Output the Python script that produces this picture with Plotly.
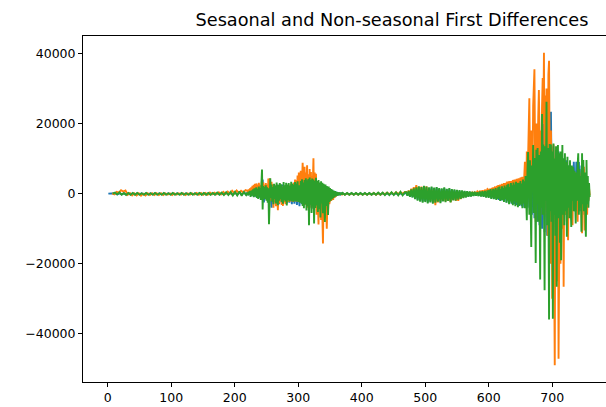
import numpy as np
import plotly.graph_objects as go

# Differenced daily series, values in thousands.
# Each series is stored as segments: (first x, x step, values).

# --- first differences (blue) ---
blue_quiet1 = [0.0, 0.0, 0.0,
               0.1, -0.2, 0.1, -0.2, 0.1, -0.2, 0.1, -0.2, 0.1, -0.2,
               0.1, -0.2, 0.1, -0.2, 0.1, -0.2, 0.1, -0.2, 0.1, -0.2,
               0.1, -0.2, 0.1, -0.2, 0.1, -0.2, 0.1, -0.2, 0.1, -0.2,
               0.1, -0.2, 0.1, -0.2, 0.1, -0.2, 0.1, -0.2, 0.1, -0.2,
               0.1, -0.2, 0.1, -0.2, 0.1, -0.2, 0.1, -0.2, 0.1, -0.2,
               0.2, -0.2, 0.2, -0.3, 0.3, -0.3, 0.3, -0.3, 0.4, -0.3]
blue_active1 = [0.3, -0.4, 0.8, -0.6, 1.0, -0.8, 1.2, -1.0, 1.5, -1.2,
                1.4, -1.5, 4.0, -2.5, 1.8, -1.5, 2.0, -1.8, 2.2, -4.0,
                2.0, -2.2, 2.4, -2.6, 2.5, -3.0, 2.2, -2.5, 2.6, -2.4,
                2.3, -2.8, 2.4, -2.6, 2.5, -3.0, 2.8, -2.9, 2.4, -3.2,
                2.6, -3.6, 3.0, -3.0, 3.4, -3.2, 3.6, -3.5, 3.8, -4.0,
                3.6, -4.2, 3.4, -3.8, 3.2, -3.6, 3.0, -3.4, 2.8, -3.0,
                2.4, -3.2, 2.0, -2.8, 1.6, -2.0, 1.2, -1.4, 0.8, -1.0,
                0.5, -0.6, 0.3, -0.3, 0.1]
blue_quiet2 = [0.1, -0.2, 0.1, -0.2, 0.1, -0.2, 0.1, -0.2, 0.1, -0.2,
               0.1, -0.2, 0.1, -0.2, 0.1, -0.2, 0.1, -0.2, 0.1, -0.2,
               0.1, -0.2, 0.1, -0.2, 0.1, -0.2, 0.1, -0.2, 0.1]
blue_mid = [0.3, -0.5, 0.7, -0.8, 1.0, -1.0, 1.3, -1.4, 1.6, -1.8,
            1.9, -2.0, 1.7, -2.3, 2.0, -2.1, 1.8, -2.5, 1.6, -2.2,
            1.8, -2.6, 1.5, -2.3, 1.7, -2.0, 1.4, -2.4, 1.3, -2.0,
            1.6, -2.1, 1.2, -1.9, 1.4, -2.2, 1.1, -1.7, 1.0, -1.8,
            0.9, -1.5, 0.8, -1.3, 0.7, -1.1, 0.6, -0.9, 0.5, -0.8,
            0.5, -0.7, 0.4, -0.6, 0.4, -0.5, 0.3, -0.6, 0.5, -0.7,
            0.6, -0.8, 0.7, -1.0, 0.8]
blue_active2 = [-1.0, 1.1, -1.3, 1.2, -1.4, 1.5, -1.6, 1.4, -1.8, 1.6,
                -1.9, 1.8, -2.2, 2.0, -2.5, 2.4, -2.6, 2.7, -2.9, 2.8,
                -3.0, 3.0, -3.2, 2.9, -3.5, 3.3, -3.6, 3.4, -4.0, 3.8,
                -4.0, 10.0, -4.0, 12.0, -6.0, 12.5, -7.0, 13.0, -8.0, 12.0,
                -9.0, 13.0, -10.0, 20.0, -11.0, 22.0, -12.0, 13.0, -14.0, 23.4,
                -14.0, 13.5, -12.0, 12.5, -10.0, 12.0, -9.0, 11.0, -8.0, 10.0,
                -6.0, 9.5, -7.0, 8.0, -5.0, 7.5, -4.0, 9.1, -5.0, 9.1,
                -4.0, 9.0, -5.0, 8.0, -6.0, 7.0, -6.0, 5.0, -3.0, -0.4]

# --- seasonal differences (orange) ---
orange_quiet1 = [0.1, -0.2, 0.5, 0.3, 1.0, 0.6, 0.9, -0.3, 0.2, -0.5,
                 0.1, -0.5, 0.1, -0.6, 0.0, -0.5, 0.1, -0.4, 0.1, -0.4,
                 0.1, -0.4, 0.1, -0.4, 0.1, -0.3, 0.1, -0.4, 0.1, -0.3,
                 0.1, -0.3, 0.1, -0.4, 0.1, -0.3, 0.1, -0.3, 0.2, -0.3,
                 0.2, -0.3, 0.2, -0.3, 0.3, -0.2, 0.3, -0.2, 0.4, -0.2,
                 0.5, -0.1, 0.6, 0.0, 0.8, 0.1, 0.9, 0.2, 0.8, 0.3,
                 1.0]
orange_active1 = [0.8, 0.2, 1.2, 0.5, 1.5, 0.3, 1.8,
                  0.9, 2.2, 0.6, 2.5, 1.0, 2.8, 0.7,
                  2.9, 1.4, 2.6, 0.5, 3.1, 1.2, 2.4,
                  -0.8, 2.0, 4.0, -1.5, 3.2, 0.6, 2.5,
                  -1.0, 3.0, -0.5, 2.6, -1.8, 4.3, -3.0,
                  4.4, 1.0, -2.0, 3.4, -1.2, 2.7, -4.0,
                  2.0, -2.5, 1.8, -3.6, 2.5, -1.0, -4.7,
                  1.5, -2.8, 2.4, -2.0, 1.9, -3.2, 1.2,
                  -3.5, 2.2, -2.5, 1.6, -3.0, 2.4, -2.6,
                  1.9, -2.4, 2.5, -2.3, 1.6, -2.2, 2.8,
                  -2.0, 2.0, -2.4, 3.2, -1.8, 4.0, -2.2,
                  3.8, -1.5, 5.2, -2.4, 6.0, -2.3, 2.5,
                  6.5, -2.0, 7.2, 8.8, 3.0, -2.5, 7.7,
                  -3.2, 6.0, 3.5, 8.1, -4.0, 5.5, -6.5,
                  7.0, -2.5, 6.2, -4.2, 5.0, 3.0, 10.1,
                  -5.5, 6.0, -3.0, 5.7, -6.0, 3.2, -5.0,
                  -8.8, 3.0, -4.5, 2.6, -7.5, 2.0, -3.5,
                  -14.2, 1.5, -6.0, -7.0, 1.8, -4.0, -10.0,
                  -2.5, -5.0, -1.0, -3.0, -1.9, -0.5, -2.0,
                  -1.5, -0.3, -1.8, -0.6, -1.2, 0.0, -0.9,
                  0.1, -0.6, 0.2, -0.4, 0.2, -0.3, 0.1,
                  -0.3, 0.1, -0.2]
orange_quiet2 = [0.1, -0.3, 0.1, -0.3, 0.1, -0.3, 0.1, -0.3, 0.1, -0.3,
                 0.1, -0.3, 0.1, -0.3, 0.2, -0.3, 0.2, -0.3, 0.2, -0.2,
                 0.3, -0.2, 0.3, -0.2, 0.4, -0.1, 0.4, 0.0, 0.5]
orange_mid = [0.5, -0.2, 0.9, -0.3, 1.4, 0.2, 1.8, 0.5, 2.4, 0.3,
              1.9, 0.0, 2.0, -0.5, 1.6, -0.8, 2.1, -1.2, 1.3, -1.8,
              1.0, -2.2, 0.6, -3.3, 0.8, -2.5, 0.4, -2.0, 0.2, -1.8,
              0.0, -2.2, -0.3, -1.8, 0.1, -2.4, -0.4, -1.6, -0.2, -2.0,
              -0.6, -2.05, -0.3, -1.5, -0.2, -1.0, 0.0, -0.8, 0.1, -0.5,
              0.2, -0.3, 0.3, -0.2, 0.4, 0.0, 0.6, 0.1, 0.8, 0.2,
              0.9, 0.3, 1.1, 0.4, 1.3]
orange_active2 = [1.0, 0.3, 1.4, 0.5, 1.2, 1.6, 0.6,
                  1.8, 0.8, 1.5, 2.0, 0.9, 1.7, 2.2,
                  1.0, 2.4, 1.9, 1.2, 2.6, 2.0, 1.4,
                  2.8, 2.2, 1.5, 3.0, 2.4, 1.6, 3.1,
                  2.0, 3.4, 2.6, 1.8, 3.5, 2.9, 1.5,
                  3.6, 3.0, 2.2, 3.9, 3.2, 1.8, 4.0,
                  3.3, 2.5, 4.2, 3.0, 1.5, 4.4, 3.6,
                  2.0, 4.6, 3.8, 1.0, 4.8, 4.0, 2.5,
                  5.0, 9.1, 3.0, -2.0, 12.0, 6.0, 10.0,
                  20.0, 27.2, 8.0, -4.0, 18.0, 12.0, 5.0,
                  25.0, 30.0, 35.5, 10.0, -8.0, 20.0, 14.0,
                  8.0, 22.0, 29.6, 16.0, -10.0, 18.0, 12.0,
                  25.0, 33.0, 20.0, 40.2, -6.0, 28.0, 15.0,
                  30.0, 22.0, -12.0, 34.0, 37.9, 10.0, -20.0,
                  18.0, 6.0, -30.0, 10.0, 14.0, -20.0, -49.0,
                  5.0, 12.0, -25.0, 8.0, 10.0, -47.1, 2.0,
                  9.0, -20.0, 6.0, 11.0, -10.0, 4.0, -26.6,
                  7.0, -6.0, 9.0, 3.0, -8.0, 6.0, -13.3,
                  5.0, -4.0, 7.0, 2.0, -6.0, 4.0, -9.0,
                  5.0, -3.0, 6.2, 1.0, -5.0, 4.0, -3.0,
                  -8.0, 5.0, -2.0, 6.0, -4.0, 3.0, -6.0,
                  -11.3, 4.0, -3.0, 7.7, -10.5, 3.0, -5.0,
                  4.0, -6.0, 3.0, -2.0, 1.5, -0.5]

# --- seasonal + first differences (green) ---
green_quiet1 = [0.0, 0.3, -0.2, 0.4, -0.3, 0.2, -0.4, 0.2, -0.3, 0.2,
                -0.3, 0.2, -0.3, 0.1, -0.3, 0.2, -0.3, 0.1, -0.3, 0.2,
                -0.3, 0.1, -0.3, 0.2, -0.3, 0.1, -0.3, 0.2, -0.3, 0.1,
                -0.3, 0.2, -0.3, 0.1, -0.3, 0.2, -0.3, 0.1, -0.3, 0.2,
                -0.3, 0.2, -0.3, 0.2, -0.3, 0.2, -0.3, 0.3, -0.3, 0.3,
                -0.4, 0.4, -0.4, 0.5, -0.5, 0.5, -0.5, 0.6, -0.6, 0.5,
                -0.4]
green_active1 = [0.3, -0.5, 0.6, -0.2, 0.8, -0.9, 0.4,
                 0.9, -0.6, 1.2, -1.0, 1.5, -0.8, 1.1,
                 1.8, -1.2, 1.4, -1.5, 2.0, -0.9, 1.6,
                 -1.8, 1.2, 6.9, -4.5, 2.2, -1.4, 1.9,
                 -1.6, 2.4, -2.0, 1.8, -2.6, 1.5, -8.7,
                 2.1, 4.4, -1.2, 2.6, -2.3, 1.9, -3.0,
                 2.8, -1.5, 2.2, -2.8, 3.2, -1.8, -3.3,
                 2.5, -2.0, 3.0, -1.6, 2.7, -2.4, 1.8,
                 -2.9, 3.3, -1.9, 2.4, -2.2, 3.1, -3.4,
                 2.6, -1.8, 3.0, -2.2, 2.2, -2.0, 3.4,
                 -2.1, 2.8, -2.3, 2.5, -2.0, 3.3, -2.2,
                 2.9, -2.1, 3.5, -2.4, 2.4, -2.2, -2.6,
                 3.6, -2.8, 4.1, -3.5, 3.2, -4.2, 3.9,
                 -3.0, 4.4, -4.8, 3.8, -3.6, 4.2, -9.0,
                 4.6, -3.2, 3.9, -5.5, 4.3, -3.7, 4.0,
                 -8.5, 3.7, -4.1, 4.5, -3.4, 3.6, -5.2,
                 3.9, -4.4, 3.2, -6.8, 3.5, -2.8, 3.1,
                 -5.6, 2.8, -3.1, -8.1, 2.6, -3.5, 2.2,
                 -4.0, -6.1, 2.0, -2.4, 1.6, -2.0, 1.3,
                 -1.6, 1.1, -1.3, 0.8, -1.0, 0.7, -0.8,
                 0.5, -0.6, 0.4, -0.5, 0.3, -0.4, 0.3,
                 -0.3, 0.2, -0.3]
green_quiet2 = [0.2, -0.3, 0.2, -0.3, 0.2, -0.3, 0.2, -0.3, 0.2, -0.3,
                0.2, -0.3, 0.2, -0.3, 0.2, -0.3, 0.3, -0.3, 0.3, -0.4,
                0.3, -0.4, 0.4, -0.4, 0.4, -0.5, 0.5, -0.5, 0.4]
green_mid = [0.4, -0.6, 0.8, -0.9, 1.2, -1.1, 1.5, -1.6, 1.8, -2.0,
             2.1, -2.3, 1.9, -2.6, 2.2, -2.4, 2.0, -2.8, 1.8, -2.5,
             2.0, -2.9, 1.7, -2.6, 1.9, -2.3, 1.6, -2.7, 1.5, -2.2,
             1.8, -2.4, 1.4, -2.1, 1.6, -2.5, 1.3, -1.9, 1.2, -2.0,
             1.1, -1.7, 1.0, -1.5, 0.9, -1.3, 0.8, -1.1, 0.7, -0.9,
             0.6, -0.8, 0.5, -0.7, 0.5, -0.6, 0.4, -0.7, 0.6, -0.8,
             0.7, -0.9, 0.8, -1.1, 0.9]
green_active2 = [-1.2, 1.0, -0.8, 1.3, -1.5, 0.9, -1.1,
                 1.4, -1.6, 1.2, -1.3, 1.6, -1.8, 1.1,
                 -1.5, 1.8, -1.4, 2.0, -2.1, 1.3, -1.7,
                 2.1, -1.9, 1.6, -2.4, 2.3, -1.5, 1.8,
                 -2.6, 2.5, -2.0, 2.8, -3.0, 1.9, -2.2,
                 3.0, -2.7, 2.4, -3.3, 3.2, -2.1, 2.6,
                 -3.6, 3.4, -2.5, 3.0, -3.9, 3.1, -2.4,
                 -3.3, 3.6, -3.0, 2.9, -4.2, 4.0, -2.8,
                 3.5, -4.2, 5.0, -3.1, -7.6, 6.5, 11.9,
                 3.2, -6.0, 9.5, -4.0, -15.2, 8.0, 2.5,
                 13.9, -5.5, 10.2, 3.0, -19.8, 12.5, -3.0,
                 13.0, -8.0, 11.0, 2.0, -24.5, 12.0, -4.0,
                 22.7, -6.0, 14.0, 1.0, -27.6, 13.5, -2.0,
                 26.2, -9.0, 13.0, 0.5, -35.9, 14.2, -5.0,
                 14.0, -8.0, 12.0, -35.7, 14.3, -6.0, 10.0,
                 -12.0, 13.5, -26.6, 9.0, 13.9, -7.0, 11.5,
                 -14.0, 12.0, -19.0, 8.0, 13.9, -6.0, 10.0,
                 -9.0, 11.5, -5.0, 9.0, -12.3, 10.5, -4.0,
                 8.0, -7.0, 9.5, -3.0, -9.5, 8.0, -2.0,
                 7.5, -5.0, 6.5, -3.0, -8.5, 6.0, -2.0,
                 8.0, 11.5, -6.0, 7.0, -4.0, 5.0, -10.9,
                 11.5, -3.0, 9.6, -5.0, 6.0, -4.0, -12.3,
                 9.6, -3.0, 5.0, -4.0, 3.0, -1.0]

blue_segments = [(1, 3.5, blue_quiet1), (220, 2, blue_active1), (370, 3.5, blue_quiet2),
                 (470, 2, blue_mid), (600, 2, blue_active2)]
orange_segments = [(7, 3.5, orange_quiet1), (220, 1, orange_active1), (370, 3.5, orange_quiet2),
                   (470, 2, orange_mid), (600, 1, orange_active2)]
green_segments = [(8, 3.5, green_quiet1), (220, 1, green_active1), (370, 3.5, green_quiet2),
                  (470, 2, green_mid), (600, 1, green_active2)]

x_ticks = [0, 100, 200, 300, 400, 500, 600, 700]
y_ticks = [-40000, -20000, 0, 20000, 40000]


def assemble(segments):
    xs, ys = [], []
    for start, step, vals in segments:
        xs.append(start + step * np.arange(len(vals)))
        ys.append(np.asarray(vals, dtype=float) * 1000.0)
    return np.concatenate(xs), np.concatenate(ys)


fig = go.Figure()
for segs, color in [(blue_segments, "#1f77b4"),
                    (orange_segments, "#ff7f0e"),
                    (green_segments, "#2ca02c")]:
    x, y = assemble(segs)
    fig.add_trace(go.Scatter(x=x, y=y, mode="lines",
                             line=dict(color=color, width=1.9),
                             hoverinfo="skip", showlegend=False))

font_family = "DejaVu Sans"
fig.update_layout(
    width=606, height=407,
    margin=dict(l=83, r=0, t=36, b=25),
    paper_bgcolor="white", plot_bgcolor="white",
    font=dict(family=font_family, size=12.5, color="black"),
    title=dict(text="Sesaonal and Non-seasonal First Differences",
               x=392 / 606, xref="container", xanchor="center",
               y=1 - 20 / 407, yref="container", yanchor="middle",
               font=dict(family=font_family, size=17.7, color="black")),
)
fig.update_xaxes(range=[-38.9, 784.7], tickvals=x_ticks,
                 ticktext=[str(v) for v in x_ticks],
                 showgrid=False, zeroline=False,
                 showline=True, linecolor="black", linewidth=1, mirror=True,
                 ticks="outside", ticklen=4, tickcolor="black", tickwidth=1)
fig.update_yaxes(range=[-53770, 45000], tickvals=y_ticks,
                 ticktext=["\u221240000", "\u221220000", "0", "20000", "40000"],
                 showgrid=False, zeroline=False,
                 showline=True, linecolor="black", linewidth=1, mirror=False,
                 ticks="outside", ticklen=4, tickcolor="black", tickwidth=1)

fig.write_html("out.html")
